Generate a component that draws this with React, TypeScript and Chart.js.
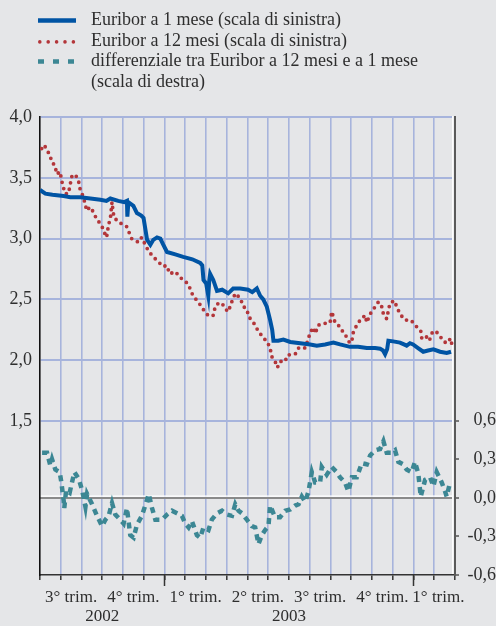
import React, { useEffect, useRef } from 'react';
import { Chart, registerables } from 'chart.js';

Chart.register(...registerables);

const FONT = '"Liberation Serif", "Times New Roman", serif';
const BG = '#e5e6e8';
const TEXT = '#2e2e2e';
const GRID = '#a7b4dc';
const BLUE = '#0054a4';
const RED = '#b3363a';
const TEAL = '#3c8794';

const seriesNames: (string | string[])[] = [
  'Euribor a 1 mese (scala di sinistra)',
  'Euribor a 12 mesi (scala di sinistra)',
  ['differenziale tra Euribor a 12 mesi e a 1 mese', '(scala di destra)'],
];

// x values: months elapsed since 1 July 2002
const quarterLabels = ['3° trim.', '4° trim.', '1° trim.', '2° trim.', '3° trim.', '4° trim.', '1° trim.'];
const quarterCenters = [1.5, 4.5, 7.5, 10.5, 13.5, 16.5, 19.2];
const yearLabels = ['2002', '2003'];
const yearCenters = [3, 12];
const yearStarts = [6, 18];
const leftTicks = [1.5, 2.0, 2.5, 3.0, 3.5, 4.0];
const rightTicks = [-0.6, -0.3, 0.0, 0.3, 0.6];

const oneMonthX = [0, 0.26, 0.6, 1.14, 1.46, 1.7, 1.95, 2.43, 2.91, 3.2, 3.39, 3.77, 4.06, 4.19, 4.21, 4.26, 4.5, 4.67, 4.88, 4.99, 5.16, 5.32, 5.46, 5.64, 5.8, 5.94, 6.12, 6.52, 6.9, 7.34, 7.72, 7.82, 7.88, 8.01, 8.11, 8.16, 8.2, 8.35, 8.53, 8.78, 9.07, 9.31, 9.65, 10.03, 10.23, 10.45, 10.61, 10.76, 10.93, 11.09, 11.19, 11.25, 11.48, 11.73, 12.06, 12.54, 13.02, 13.34, 13.74, 14.14, 14.46, 14.94, 15.33, 15.75, 16.15, 16.39, 16.53, 16.63, 16.73, 16.79, 17.02, 17.35, 17.54, 17.67, 17.83, 17.98, 18.22, 18.47, 18.7, 18.96, 19.28, 19.6, 19.81];
const oneMonthY = [3.4, 3.37, 3.36, 3.35, 3.34, 3.34, 3.34, 3.33, 3.32, 3.31, 3.33, 3.31, 3.3, 3.31, 3.18, 3.3, 3.27, 3.21, 3.19, 3.17, 2.99, 2.95, 2.99, 3.01, 3.0, 2.95, 2.89, 2.87, 2.85, 2.83, 2.8, 2.78, 2.66, 2.63, 2.53, 2.66, 2.71, 2.66, 2.57, 2.58, 2.55, 2.59, 2.59, 2.58, 2.56, 2.59, 2.53, 2.5, 2.44, 2.33, 2.25, 2.16, 2.16, 2.17, 2.15, 2.14, 2.13, 2.12, 2.13, 2.145, 2.13, 2.11, 2.11, 2.1, 2.1, 2.095, 2.08, 2.05, 2.09, 2.16, 2.155, 2.145, 2.13, 2.12, 2.14, 2.13, 2.1, 2.07, 2.08, 2.09, 2.07, 2.06, 2.07];

const twelveMonthX = [0.08, 0.21, 0.32, 0.49, 0.56, 0.73, 0.8, 0.97, 1.04, 1.13, 1.21, 1.37, 1.45, 1.53, 1.69, 1.85, 1.93, 2.09, 2.17, 2.25, 2.41, 2.57, 2.73, 2.97, 3.05, 3.21, 3.29, 3.4, 3.47, 3.53, 3.62, 3.77, 3.93, 4.17, 4.42, 4.74, 4.9, 5.22, 5.46, 5.7, 5.94, 6.1, 6.26, 6.52, 6.76, 7.0, 7.16, 7.32, 7.56, 7.8, 7.96, 8.17, 8.36, 8.44, 8.6, 8.77, 8.93, 9.09, 9.17, 9.41, 9.65, 9.81, 9.97, 10.05, 10.29, 10.45, 10.61, 10.77, 10.93, 11.09, 11.17, 11.33, 11.44, 11.57, 11.82, 11.9, 12.14, 12.3, 12.46, 12.62, 12.78, 12.94, 13.02, 13.18, 13.26, 13.42, 13.58, 13.82, 13.98, 14.06, 14.22, 14.38, 14.46, 14.7, 14.79, 14.94, 15.03, 15.1, 15.27, 15.43, 15.67, 15.75, 15.91, 16.15, 16.31, 16.47, 16.55, 16.71, 16.79, 16.87, 17.08, 17.19, 17.35, 17.59, 17.88, 18.07, 18.35, 18.4, 18.59, 18.76, 18.93, 19.12, 19.28, 19.41, 19.6, 19.79, 19.87];
const twelveMonthY = [3.74, 3.77, 3.73, 3.685, 3.63, 3.6, 3.53, 3.55, 3.48, 3.42, 3.37, 3.37, 3.44, 3.51, 3.53, 3.48, 3.41, 3.34, 3.29, 3.23, 3.26, 3.22, 3.16, 3.11, 3.07, 3.01, 3.1, 3.18, 3.3, 3.21, 3.16, 3.15, 3.12, 3.1, 3.0, 2.97, 3.01, 2.9, 2.85, 2.81, 2.77, 2.78, 2.71, 2.73, 2.68, 2.65, 2.62, 2.55, 2.49, 2.44, 2.39, 2.36, 2.37, 2.44, 2.47, 2.47, 2.42, 2.4, 2.45, 2.55, 2.51, 2.44, 2.42, 2.36, 2.31, 2.26, 2.22, 2.18, 2.16, 2.1, 2.03, 1.99, 1.94, 1.99, 1.99, 2.04, 2.05, 2.05, 2.1, 2.11, 2.1, 2.18, 2.23, 2.27, 2.22, 2.29, 2.29, 2.31, 2.31, 2.4, 2.31, 2.29, 2.26, 2.22, 2.18, 2.14, 2.16, 2.23, 2.29, 2.33, 2.37, 2.31, 2.38, 2.44, 2.48, 2.44, 2.38, 2.34, 2.41, 2.47, 2.49, 2.44, 2.38, 2.33, 2.33, 2.29, 2.24, 2.18, 2.2, 2.16, 2.24, 2.23, 2.2, 2.16, 2.14, 2.18, 2.11];

const spreadX = [0.1, 0.34, 0.5, 0.58, 0.74, 0.95, 1.03, 1.14, 1.17, 1.26, 1.43, 1.54, 1.66, 1.86, 2.03, 2.19, 2.27, 2.51, 2.75, 2.99, 3.15, 3.31, 3.47, 3.63, 3.87, 4.03, 4.19, 4.35, 4.51, 4.67, 4.91, 5.07, 5.24, 5.4, 5.56, 5.88, 6.12, 6.36, 6.6, 6.84, 7.0, 7.16, 7.32, 7.56, 7.72, 7.88, 8.12, 8.28, 8.53, 8.77, 9.01, 9.25, 9.41, 9.57, 9.73, 9.97, 10.21, 10.37, 10.53, 10.69, 10.85, 11.01, 11.09, 11.33, 11.57, 11.82, 12.06, 12.3, 12.46, 12.62, 12.78, 12.94, 13.1, 13.26, 13.5, 13.58, 13.82, 14.06, 14.3, 14.46, 14.7, 14.86, 15.03, 15.27, 15.51, 15.75, 15.91, 16.15, 16.39, 16.55, 16.71, 16.95, 17.11, 17.27, 17.51, 17.67, 17.91, 18.07, 18.23, 18.35, 18.56, 18.8, 18.96, 19.12, 19.36, 19.52, 19.6, 19.76];
const spreadY = [0.35, 0.35, 0.25, 0.3, 0.22, 0.2, 0.12, -0.02, -0.08, 0.06, 0.04, 0.12, 0.2, 0.15, 0.06, -0.07, 0.03, -0.05, -0.14, -0.22, -0.17, -0.14, -0.04, -0.13, -0.17, -0.2, -0.08, -0.29, -0.31, -0.21, -0.14, -0.06, 0.03, -0.08, -0.17, -0.17, -0.13, -0.1, -0.12, -0.14, -0.2, -0.23, -0.18, -0.29, -0.31, -0.23, -0.25, -0.17, -0.12, -0.1, -0.13, -0.14, -0.05, -0.1, -0.12, -0.17, -0.22, -0.23, -0.36, -0.29, -0.25, -0.22, -0.06, -0.15, -0.15, -0.1, -0.09, -0.06, -0.05, 0.01, -0.03, 0.05, 0.2, 0.12, 0.12, 0.24, 0.18, 0.24, 0.2, 0.16, 0.12, 0.05, 0.16, 0.16, 0.27, 0.26, 0.33, 0.37, 0.38, 0.44, 0.35, 0.35, 0.37, 0.28, 0.26, 0.22, 0.2, 0.28, 0.19, 0.01, 0.14, 0.16, 0.09, 0.2, 0.12, 0.05, 0.01, 0.12];

const fmt = (v: number) => v.toFixed(1).replace('.', ',');
const toPts = (xs: number[], ys: number[]) => xs.map((x, i) => ({ x, y: ys[i] }));

const decor = {
  id: 'decor',
  beforeDatasetsDraw(chart: any) {
    const { ctx, chartArea: a, scales } = chart;
    ctx.save();
    const y0 = scales.y1.getPixelForValue(0);
    ctx.fillStyle = '#ffffff';
    ctx.fillRect(a.left + 1, y0 - 2.4, a.right - a.left - 2, 1.3);
    const xr = scales.x.getPixelForValue(19.86);
    ctx.fillStyle = BG;
    ctx.fillRect(xr, a.top - 1, a.right - 1 - xr, a.bottom - a.top);
    ctx.fillStyle = '#ffffff';
    ctx.fillRect(xr, a.top - 1, 1.3, a.bottom - a.top);
    ctx.restore();
  },
  afterDraw(chart: any) {
    const { ctx, chartArea: a, scales } = chart;
    ctx.save();
    ctx.strokeStyle = '#333';
    ctx.lineWidth = 1.5;
    yearStarts.forEach((v) => {
      const x = scales.x.getPixelForValue(v);
      ctx.beginPath();
      ctx.moveTo(x, a.bottom);
      ctx.lineTo(x, a.bottom + 11);
      ctx.stroke();
    });
    ctx.restore();
  },
};

function Swatch({ kind }: { kind: number }) {
  return (
    <svg width={40} height={21} style={{ position: 'absolute', left: 38, top: 0 }}>
      {kind === 0 && <line x1={0} x2={38} y1={11.5} y2={11.5} stroke={BLUE} strokeWidth={4.3} />}
      {kind === 1 && (
        <line x1={1.8} x2={37} y1={11.9} y2={11.9} stroke={RED} strokeWidth={3.6} strokeLinecap="round" strokeDasharray="0 8.4" />
      )}
      {kind === 2 && <line x1={0} x2={38} y1={11.5} y2={11.5} stroke={TEAL} strokeWidth={4.6} strokeDasharray="6 9" />}
    </svg>
  );
}

export default function App() {
  const ref = useRef<HTMLCanvasElement | null>(null);

  useEffect(() => {
    if (!ref.current) return;
    const tickFont = { family: FONT, size: 18 };
    const chart = new Chart(ref.current, {
      type: 'line',
      data: {
        datasets: [
          {
            label: String(seriesNames[0]),
            data: toPts(oneMonthX, oneMonthY),
            borderColor: BLUE,
            borderWidth: 4,
            pointRadius: 0,
            tension: 0,
            yAxisID: 'y',
          },
          {
            label: String(seriesNames[1]),
            data: toPts(twelveMonthX, twelveMonthY),
            borderColor: RED,
            borderWidth: 3.8,
            borderDash: [0, 6.5],
            borderCapStyle: 'round',
            pointRadius: 0,
            tension: 0,
            yAxisID: 'y',
          },
          {
            label: (seriesNames[2] as string[]).join(' '),
            data: toPts(spreadX, spreadY),
            borderColor: TEAL,
            borderWidth: 4.5,
            borderDash: [6, 5],
            pointRadius: 0,
            tension: 0,
            yAxisID: 'y1',
          },
        ],
      },
      options: {
        animation: false,
        responsive: true,
        maintainAspectRatio: false,
        layout: { padding: { top: 117, left: 0, right: 0, bottom: 0 } },
        plugins: { legend: { display: false }, tooltip: { enabled: false } },
        scales: {
          x: {
            type: 'linear',
            min: 0,
            max: 20,
            afterBuildTicks: (scale: any) => {
              const vals: number[] = [];
              for (let m = 0; m <= 20; m++) vals.push(m);
              quarterCenters.forEach((v) => vals.push(v));
              vals.sort((p, q) => p - q);
              scale.ticks = vals.map((v) => ({ value: v }));
            },
            afterFit: (scale: any) => {
              scale.height = 51;
            },
            grid: {
              color: (c: any) => {
                const v = c.tick ? c.tick.value : -1;
                return Number.isInteger(v) && v > 0 && v < 20 ? GRID : 'rgba(0,0,0,0)';
              },
              lineWidth: 1.6,
              tickLength: 5,
              tickWidth: 1.5,
              tickColor: (c: any) => (c.tick && Number.isInteger(c.tick.value) ? '#333' : 'rgba(0,0,0,0)'),
            },
            border: { color: '#333', width: 1.5 },
            ticks: {
              autoSkip: false,
              maxRotation: 0,
              minRotation: 0,
              padding: 8,
              color: TEXT,
              font: { family: FONT, size: 17, lineHeight: 1.12 },
              callback: (value: any) => {
                const v = Number(value);
                const qi = quarterCenters.indexOf(v);
                if (qi >= 0) return quarterLabels[qi];
                const yi = yearCenters.indexOf(v);
                if (yi >= 0) return ['', yearLabels[yi]];
                return '';
              },
            },
          },
          y: {
            type: 'linear',
            position: 'left',
            min: 0.234,
            max: 4.0,
            afterBuildTicks: (scale: any) => {
              scale.ticks = leftTicks.map((v) => ({ value: v }));
            },
            afterFit: (scale: any) => {
              scale.width = 40;
            },
            grid: { color: GRID, lineWidth: 2, drawTicks: false },
            border: { color: '#111', width: 1.6 },
            ticks: {
              padding: 8,
              color: TEXT,
              font: tickFont,
              callback: (value: any) => fmt(Number(value)),
            },
          },
          y1: {
            type: 'linear',
            position: 'right',
            min: -0.6,
            max: 2.962,
            afterBuildTicks: (scale: any) => {
              scale.ticks = rightTicks.map((v) => ({ value: v }));
            },
            afterFit: (scale: any) => {
              scale.width = 41;
            },
            grid: {
              color: (c: any) => (c.tick && Math.abs(c.tick.value) < 1e-9 ? '#8a8a8a' : 'rgba(0,0,0,0)'),
              lineWidth: 2,
              tickLength: 4,
              tickColor: '#555',
              tickWidth: 1.5,
            },
            border: { color: '#5a5a5a', width: 2 },
            ticks: {
              padding: 6,
              crossAlign: 'far',
              color: TEXT,
              font: tickFont,
              callback: (value: any) => fmt(Number(value)),
            },
          },
        },
      },
      plugins: [decor],
    } as any);
    return () => chart.destroy();
  }, []);

  return (
    <div style={{ position: 'fixed', left: 0, top: 0, width: 496, height: 626, background: BG, overflow: 'hidden' }}>
      <div style={{ position: 'absolute', left: 0, top: 0, width: 496, height: 626 }}>
        <canvas ref={ref} style={{ display: 'block' }} />
      </div>
      <div
        style={{
          position: 'absolute',
          left: 0,
          top: 9,
          width: 496,
          fontFamily: FONT,
          fontSize: 18,
          lineHeight: '20.6px',
          color: TEXT,
        }}
      >
        {seriesNames.map((name, i) => (
          <div key={i} style={{ position: 'relative', minHeight: 20.6 }}>
            <Swatch kind={i} />
            <div style={{ marginLeft: 91, whiteSpace: 'nowrap' }}>
              {Array.isArray(name)
                ? name.map((line, j) => <div key={j}>{line}</div>)
                : name}
            </div>
          </div>
        ))}
      </div>
    </div>
  );
}
